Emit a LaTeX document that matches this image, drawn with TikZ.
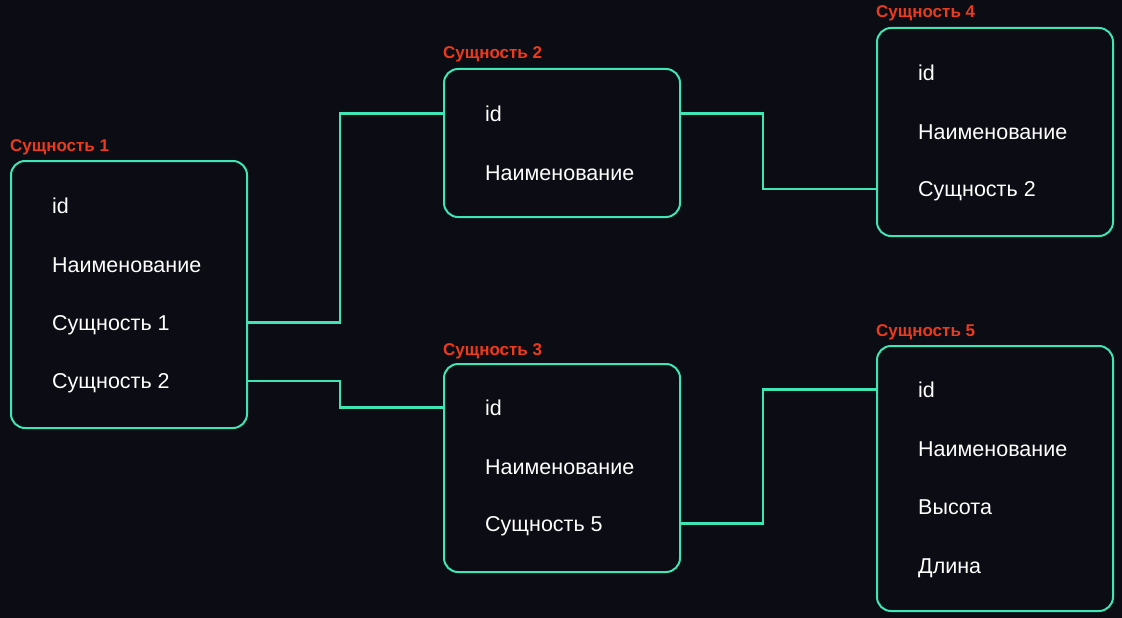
\documentclass[tikz,border=0pt]{standalone}
\usepackage{fontspec}
\setmainfont{Liberation Sans}
\definecolor{bg}{HTML}{0B0C14}
\definecolor{teal}{HTML}{3DE6B4}
\definecolor{lbl}{HTML}{EE3A1C}
\begin{document}
\begin{tikzpicture}[x=1pt,y=-1pt,
  box/.style={draw=teal,line width=2pt,rounded corners=14pt,anchor=north west,minimum width=236pt,inner sep=0pt},
  row/.style={anchor=west,inner sep=0pt,text height=15.4pt,text depth=0pt,text=white,font=\fontsize{21.5}{25}\selectfont},
  ttl/.style={anchor=base west,inner sep=0pt,text=lbl,font=\fontsize{17}{20}\selectfont\bfseries},
  link/.style={draw=teal,line width=2.6pt}]
\useasboundingbox (0,0) rectangle (1122,618);
\fill[bg] (0,0) rectangle (1122,618);
% boxes
\node[box,minimum height=267pt] (b1) at (10,160) {};
\node[box,minimum height=148pt] (b2) at (443,68) {};
\node[box,minimum height=208pt] (b3) at (443,363) {};
\node[box,minimum height=208pt] (b4) at (876,27) {};
\node[box,minimum height=265pt] (b5) at (876,345) {};
% titles
\node[ttl] (t1) at (10,151) {Сущность 1};
\node[ttl] (t2) at (443,59) {Сущность 2};
\node[ttl] (t3) at (443,355) {Сущность 3};
\node[ttl] (t4) at (876,18) {Сущность 4};
\node[ttl] (t5) at (876,336) {Сущность 5};
% rows
\node[row] (b1r1) at (52,206) {id};
\node[row] (b1r2) at (52,264.5) {Наименование};
\node[row] (b1r3) at (52,322.5) {Сущность 1};
\node[row] (b1r4) at (52,381) {Сущность 2};
\node[row] (b2r1) at (485,113.5) {id};
\node[row] (b2r2) at (485,172.5) {Наименование};
\node[row] (b3r1) at (485,407.5) {id};
\node[row] (b3r2) at (485,466.5) {Наименование};
\node[row] (b3r3) at (485,523.5) {Сущность 5};
\node[row] (b4r1) at (918,73) {id};
\node[row] (b4r2) at (918,131.5) {Наименование};
\node[row] (b4r3) at (918,189) {Сущность 2};
\node[row] (b5r1) at (918,389.5) {id};
\node[row] (b5r2) at (918,448.5) {Наименование};
\node[row] (b5r3) at (918,507) {Высота};
\node[row] (b5r4) at (918,565.5) {Длина};
% junction columns
\coordinate (j1) at (340,0);
\coordinate (j2) at (763,0);
% connectors
\draw[link] (b1.east |- b1r3) -- (j1 |- b1r3) -- (j1 |- b2r1) -- (b2.west |- b2r1);
\draw[link] (b1.east |- b1r4) -- (j1 |- b1r4) -- (j1 |- b3r1) -- (b3.west |- b3r1);
\draw[link] (b2.east |- b2r1) -- (j2 |- b2r1) -- (j2 |- b4r3) -- (b4.west |- b4r3);
\draw[link] (b3.east |- b3r3) -- (j2 |- b3r3) -- (j2 |- b5r1) -- (b5.west |- b5r1);
\end{tikzpicture}
\end{document}
